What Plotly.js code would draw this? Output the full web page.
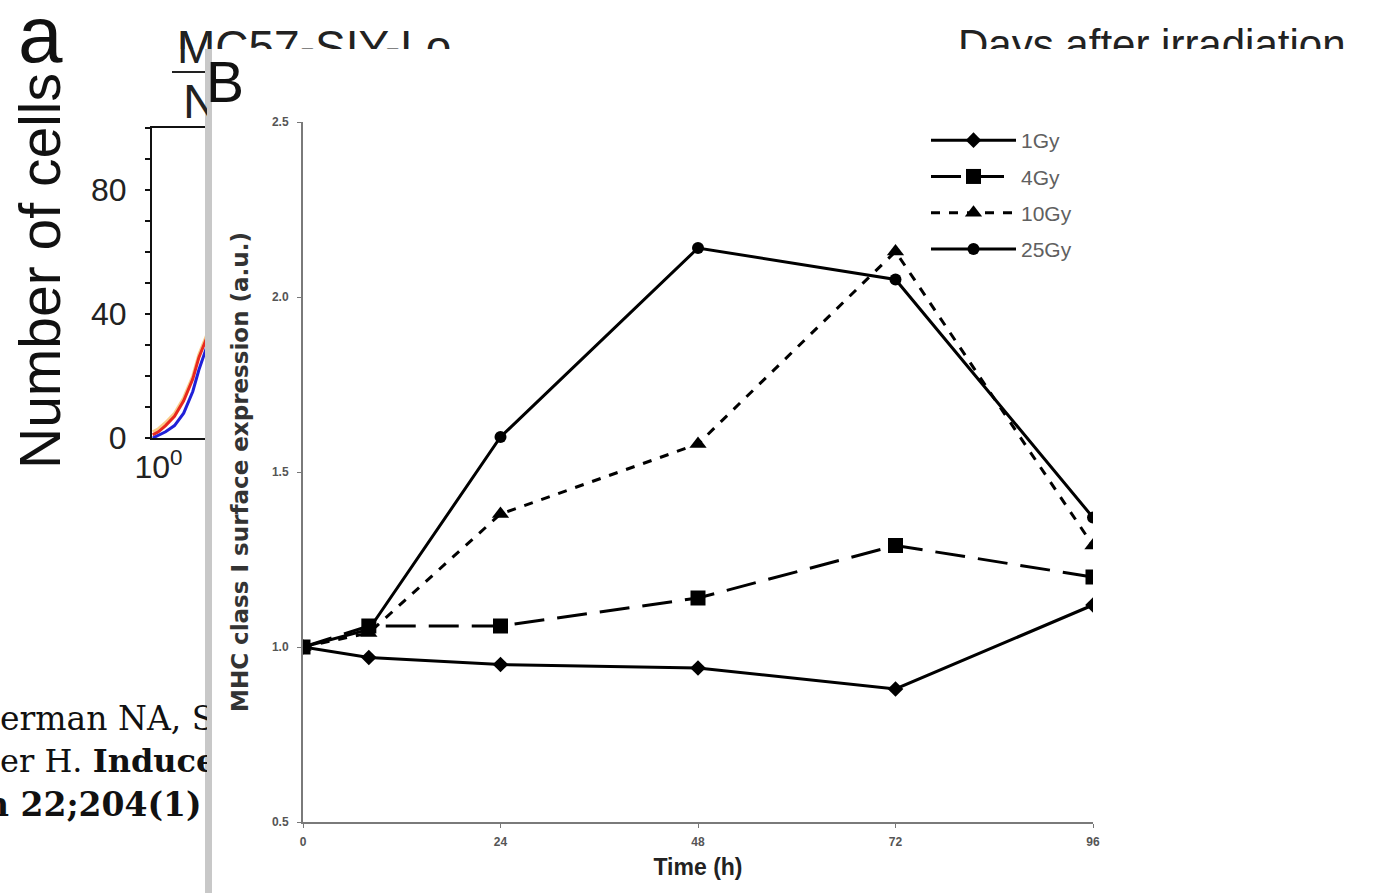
<!DOCTYPE html>
<html><head><meta charset="utf-8">
<script src="https://cdn.plot.ly/plotly-3.0.1.min.js"></script>
<style>html,body{margin:0;padding:0;background:#fff;overflow:hidden}#chart{width:1383px;height:893px}</style>
</head><body><div id="chart"></div>
<script>
// ---- Panel B data (MHC class I surface expression) ----
const timeH = [0, 8, 24, 48, 72, 96];
const gy1  = [1.00, 0.97, 0.95, 0.94, 0.88, 1.12];
const gy4  = [1.00, 1.06, 1.06, 1.14, 1.29, 1.20];
const gy10 = [1.00, 1.04, 1.38, 1.58, 2.13, 1.29];
const gy25 = [1.00, 1.05, 1.60, 2.14, 2.05, 1.37];
const seriesNames = ['1Gy', '4Gy', '10Gy', '25Gy'];
const xTicks = [0, 24, 48, 72, 96];
const yTicks = [0.5, 1.0, 1.5, 2.0, 2.5];

// ---- Background panel a (partly hidden histogram) ----
const histFluor  = [0.85, 1.0, 1.23, 1.59, 2.07, 2.69, 3.21, 3.98];
const histOrange = [2, 3, 5, 8, 13, 20, 27, 33];
const histRed    = [1, 2, 4, 7, 12, 19, 26, 32];
const histBlue   = [0, 1, 2, 4, 8, 15, 22, 29];
const histYTicks = [0, 10, 20, 30, 40, 50, 60, 70, 80, 90, 100];
const histYLabels = ['0', '', '', '', '40', '', '', '', '80', '', ''];
const histXTicks = [1];
const histXLabels = ['10<sup>0</sup>'];

const W = 1383, H = 893;
const px = v => v / W;
const py = v => 1 - v / H;

const styles = [
  {marker: {symbol: 'diamond', size: 12}, line: {dash: 'solid', width: 3}},
  {marker: {symbol: 'square', size: 15}, line: {dash: '30px,13px', width: 3}},
  {marker: {symbol: 'triangle-up', size: 15}, line: {dash: '9px,9px', width: 3}},
  {marker: {symbol: 'circle', size: 12}, line: {dash: 'solid', width: 3}}
];
const ys = [gy1, gy4, gy10, gy25];
const traces = ys.map((y, i) => ({
  x: timeH, y: y, name: seriesNames[i], type: 'scatter', mode: 'lines+markers',
  xaxis: 'x', yaxis: 'y', legendgroup: 'g' + i,
  line: Object.assign({color: '#000'}, styles[i].line),
  marker: Object.assign({color: '#000'}, styles[i].marker)
}));

const histColors = ['rgba(245,170,60,0.6)', '#e8281e', '#2020d8'];
[histOrange, histRed, histBlue].forEach((h, i) => traces.push({
  x: histFluor, y: h, type: 'scatter', mode: 'lines', showlegend: false,
  xaxis: 'x2', yaxis: 'y2', hoverinfo: 'skip',
  line: {color: histColors[i], width: 3}
}));

const sans = 'Liberation Sans, Arial, sans-serif';
const serif = 'DejaVu Serif, serif';

function ann(o) {
  return Object.assign({xref: 'paper', yref: 'paper', showarrow: false,
    borderpad: 0, borderwidth: 0}, o);
}

const annotations = [
  ann({text: 'a', x: px(40), y: py(-10), xanchor: 'center', yanchor: 'top',
       font: {family: sans, size: 80, color: '#111'}}),
  ann({text: 'Number of cells', textangle: -90, x: px(40), y: py(271),
       xanchor: 'center', yanchor: 'middle', font: {family: sans, size: 57, color: '#111'}}),
  // MC57-SIY-Lo : visible above panel B and left of it
  ann({text: 'MC57-SIY-Lo', x: px(177), y: py(21), xanchor: 'left', yanchor: 'top',
       align: 'left', valign: 'top', height: 28, font: {family: sans, size: 46, color: '#222'}}),
  ann({text: 'MC57-SIY-Lo', x: px(177), y: py(21), xanchor: 'left', yanchor: 'top',
       align: 'left', valign: 'top', width: 30, font: {family: sans, size: 46, color: '#222'}}),
  ann({text: 'N', x: px(183), y: py(75), xanchor: 'left', yanchor: 'top',
       align: 'left', valign: 'top', width: 24, font: {family: sans, size: 48, color: '#222'}}),
  ann({text: 'Days after irradiation', x: px(958), y: py(21), xanchor: 'left', yanchor: 'top',
       align: 'left', valign: 'top', height: 28, font: {family: sans, size: 42, color: '#222'}}),
  // citation fragments
  ann({text: 'erman NA, Sc', x: px(0), y: py(699), xanchor: 'left', yanchor: 'top',
       align: 'left', valign: 'top', width: 207, font: {family: serif, size: 33, color: '#111'}}),
  ann({text: 'er H. <b>Induced</b>', x: px(0), y: py(742), xanchor: 'left', yanchor: 'top',
       align: 'left', valign: 'top', width: 207, font: {family: serif, size: 32, color: '#111'}}),
  ann({text: '<b>Jan 22;204(1)</b>', x: px(202), y: py(785), xanchor: 'right', yanchor: 'top',
       font: {family: serif, size: 33, color: '#111'}}),
  // panel label
  ann({text: 'B', x: px(206), y: py(50), xanchor: 'left', yanchor: 'top',
       font: {family: sans, size: 57, color: '#111'}})
];

const shapes = [
  {type: 'line', xref: 'paper', yref: 'paper', x0: px(172), x1: px(207), y0: py(72), y1: py(72),
   line: {color: '#222', width: 2}},
  {type: 'rect', xref: 'paper', yref: 'paper', x0: px(205), x1: px(212), y0: py(893), y1: py(49),
   fillcolor: '#c8c8c8', line: {width: 0}, layer: 'above'}
];

const layout = {
  width: W, height: H,
  margin: {l: 0, r: 0, t: 0, b: 0},
  paper_bgcolor: '#fff', plot_bgcolor: 'rgba(0,0,0,0)',
  showlegend: true,
  legend: {x: px(926), y: py(120), xanchor: 'left', yanchor: 'top',
           font: {family: sans, size: 21, color: '#606060'},
           bgcolor: 'rgba(0,0,0,0)', itemwidth: 85, tracegroupgap: 6, traceorder: 'grouped'},
  xaxis: {domain: [px(303), px(1093)], range: [0, 96], anchor: 'y',
          tickmode: 'array', tickvals: xTicks, ticks: 'outside', ticklen: 4, tickcolor: '#777',
          showline: true, linecolor: '#7a7a7a', linewidth: 2, showgrid: false, zeroline: false,
          tickfont: {family: sans, size: 12, color: '#555', weight: 'bold'}, ticklabelstandoff: 4,
          title: {text: 'Time (h)', standoff: 10, font: {family: sans, size: 23, color: '#222', weight: 'bold'}}},
  yaxis: {domain: [py(822), py(122)], range: [0.5, 2.5], anchor: 'x',
          tickmode: 'array', tickvals: yTicks, tickformat: '.1f', ticks: 'outside', ticklen: 4, tickcolor: '#777',
          showline: true, linecolor: '#7a7a7a', linewidth: 2, showgrid: false, zeroline: false,
          tickfont: {family: sans, size: 12, color: '#555', weight: 'bold'}, ticklabelstandoff: 6,
          title: {text: 'MHC class I surface expression (a.u.)', standoff: 17,
                  font: {family: 'DejaVu Sans, sans-serif', size: 23, color: '#333', weight: 'bold'}}},
  xaxis2: {domain: [px(152), px(208)], type: 'log', range: [-0.08, 0.62], anchor: 'y2',
           tickmode: 'array', tickvals: histXTicks, ticktext: histXLabels, ticks: '',
           showline: true, mirror: true, linecolor: '#111', linewidth: 2, showgrid: false, zeroline: false,
           tickfont: {family: sans, size: 32, color: '#222'}},
  yaxis2: {domain: [py(438), py(128)], range: [0, 100], anchor: 'x2',
           tickmode: 'array', tickvals: histYTicks, ticktext: histYLabels, ticks: 'outside', ticklen: 5,
           tickwidth: 1.5, tickcolor: '#111', showline: true, linecolor: '#111', linewidth: 2,
           showgrid: false, zeroline: false, ticklabelstandoff: 12,
           tickfont: {family: sans, size: 32, color: '#222'}},
  annotations: annotations,
  shapes: shapes
};

Plotly.newPlot('chart', traces, layout, {displayModeBar: false, staticPlot: true});
</script>
</body></html>
